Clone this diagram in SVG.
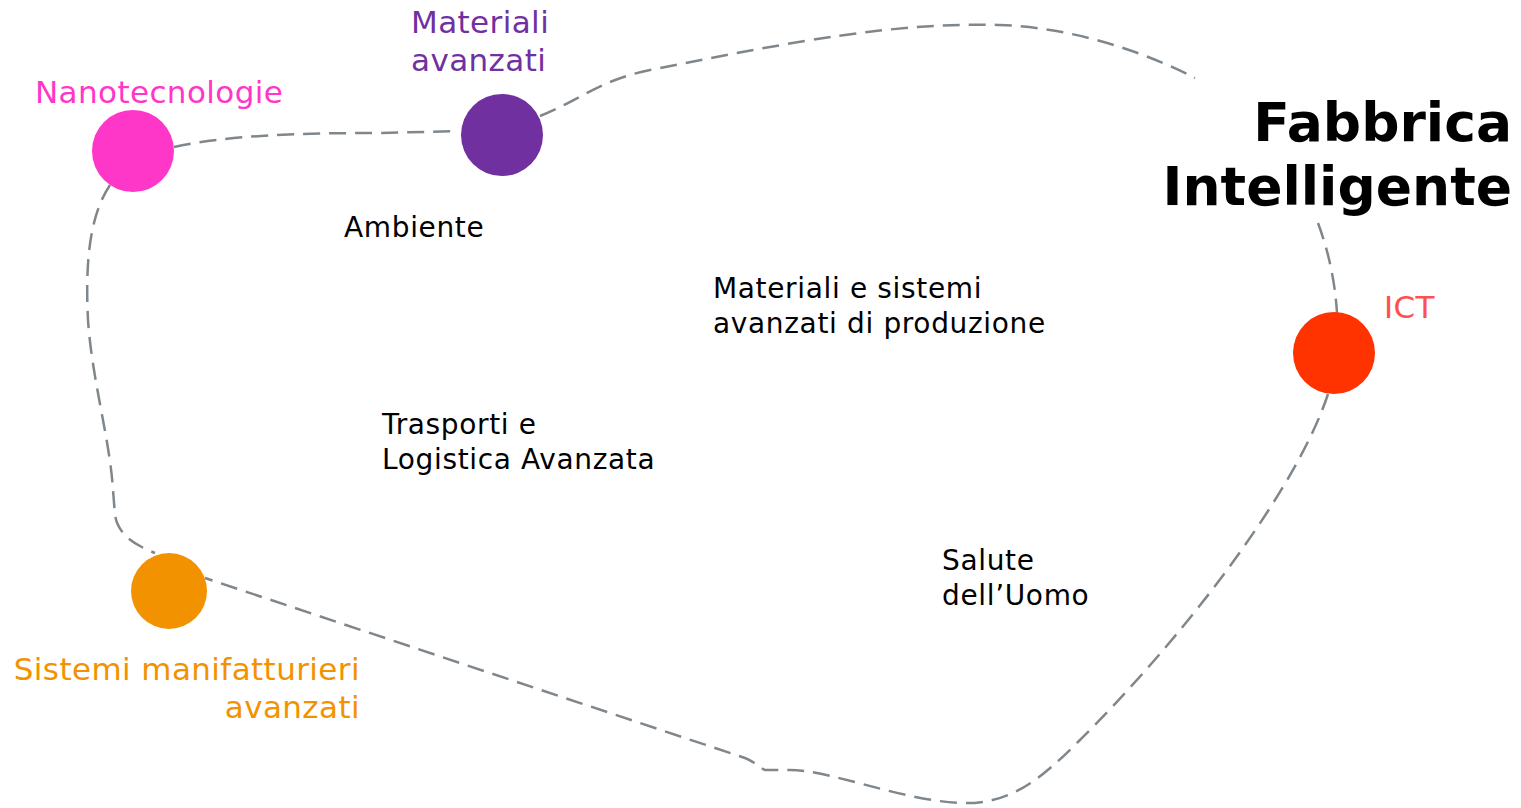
<svg xmlns="http://www.w3.org/2000/svg" width="1521" height="808" viewBox="0 0 1521 808">
<style>
.c{fill:none;stroke:#7f878c;stroke-width:2.5;stroke-dasharray:17 9}
text{font-family:"DejaVu Sans",Verdana,sans-serif}
.n{font-size:31px;letter-spacing:0.4px}
.t{font-size:28px;letter-spacing:0.65px;fill:#000}
.h{font-size:53.5px;font-weight:bold;fill:#000;text-anchor:end}
</style>
<rect width="1521" height="808" fill="#fff"/>
<g id="connectors">
<path class="c" d="M174,147 C230,135 300,133 380,133 L459,131"/>
<path class="c" d="M540,116 C580,100 600,80 650,70 C800,40 900,22 1000,25 C1080,28 1150,55 1195,78"/>
<path class="c" d="M1318,223 C1328,250 1335,280 1337,313"/>
<path class="c" d="M1328,394 C1300,480 1200,620 1080,740 C1040,780 1010,805 960,803 C900,800 830,770 790,770 L765,770 C760,768 755,762 745,758 L205,578"/>
<path class="c" d="M110,185 C90,215 85,260 88,320 C92,380 110,440 113,490 L115,515 C118,535 135,545 155,553"/>
</g>
<g id="nanotecnologie">
<circle cx="133" cy="151" r="41" fill="#ff37c8"/>
<text class="n" x="35" y="103" fill="#ff37c8">Nanotecnologie</text>
</g>
<g id="materiali-avanzati">
<circle cx="502" cy="135" r="41" fill="#7030a0"/>
<text class="n" x="411" y="33" fill="#7030a0">Materiali</text>
<text class="n" x="411" y="71" fill="#7030a0">avanzati</text>
</g>
<g id="ict">
<circle cx="1334" cy="353" r="41" fill="#ff3300"/>
<text class="n" x="1384" y="318" fill="#ff5050" letter-spacing="2">ICT</text>
</g>
<g id="sistemi">
<ellipse cx="169" cy="591" rx="38" ry="38" fill="#f39200"/>
<text class="n" x="360" y="680" fill="#f39200" text-anchor="end">Sistemi manifatturieri</text>
<text class="n" x="360" y="718" fill="#f39200" text-anchor="end">avanzati</text>
</g>
<g id="fabbrica">
<text class="h" x="1512" y="141">Fabbrica</text>
<text class="h" x="1512" y="205">Intelligente</text>
</g>
<g id="labels">
<text class="t" x="344" y="237">Ambiente</text>
<text class="t" x="713" y="298">Materiali e sistemi</text>
<text class="t" x="713" y="333">avanzati di produzione</text>
<text class="t" x="382" y="434">Trasporti e</text>
<text class="t" x="382" y="469">Logistica Avanzata</text>
<text class="t" x="942" y="570">Salute</text>
<text class="t" x="942" y="605">dell’Uomo</text>
</g>
</svg>
